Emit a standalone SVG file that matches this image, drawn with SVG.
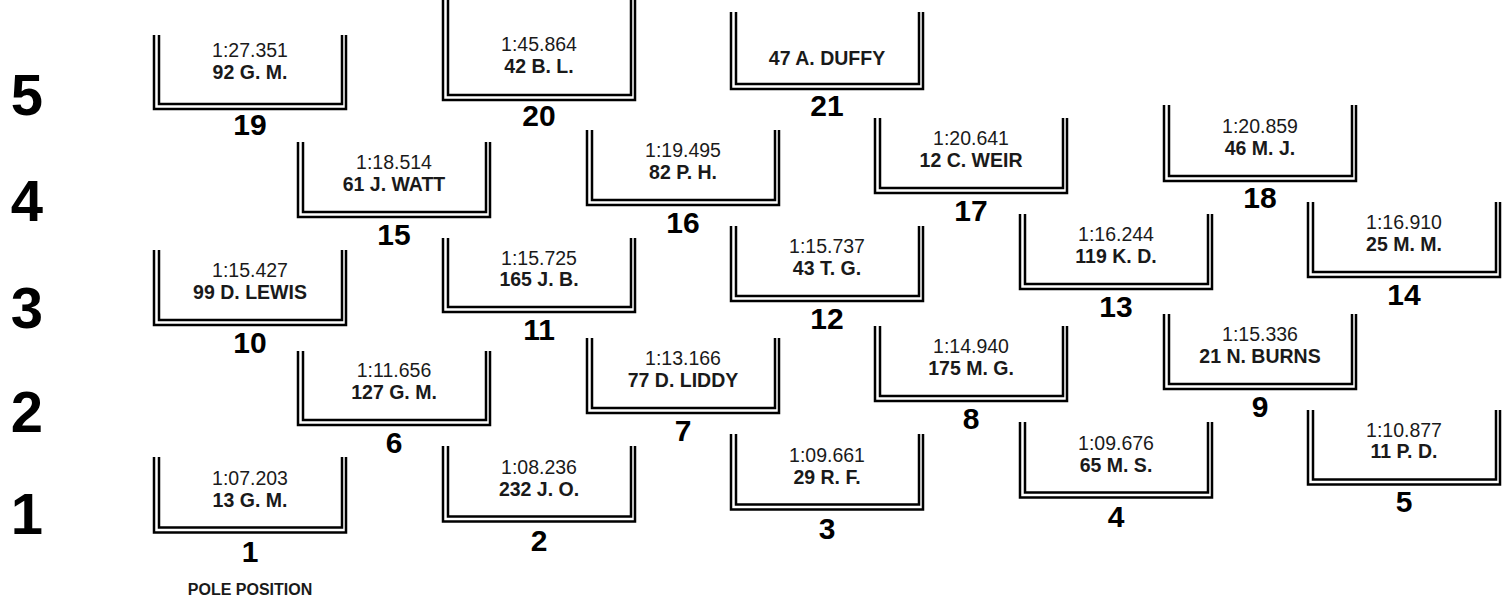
<svg xmlns="http://www.w3.org/2000/svg" width="1511" height="608" viewBox="0 0 1511 608">
<style>
.u{fill:none;stroke:#000;stroke-width:2.5}
.t{font-family:"Liberation Sans",Arial,sans-serif;font-size:19.5px;text-anchor:middle;fill:#1a1a1a}
.n{font-family:"Liberation Sans",Arial,sans-serif;font-size:19.5px;font-weight:bold;text-anchor:middle;fill:#1a1a1a}
.p{font-family:"Liberation Sans",Arial,sans-serif;font-size:30px;font-weight:bold;text-anchor:middle;fill:#000}
.r{font-family:"Liberation Sans",Arial,sans-serif;font-size:58px;font-weight:bold;text-anchor:middle;fill:#000}
.pole{font-family:"Liberation Sans",Arial,sans-serif;font-size:16px;font-weight:bold;text-anchor:middle;fill:#1a1a1a}
</style>
<rect width="1511" height="608" fill="#fff"/>
<g id="rows">
<text class="r" x="27" y="115">5</text>
<text class="r" x="27" y="221">4</text>
<text class="r" x="27" y="328">3</text>
<text class="r" x="27" y="432">2</text>
<text class="r" x="27" y="534">1</text>
</g>
<text class="pole" x="250" y="595">POLE POSITION</text>
<g id="box1"><path class="u" d="M154,457V532.5H346V457"/><path class="u" d="M159,457V527.5H342V457"/><text class="t" x="250" y="485">1:07.203</text><text class="n" x="250" y="507">13 G. M.</text><text class="p" x="250" y="562">1</text></g>
<g id="box2"><path class="u" d="M443,446V521.5H635V446"/><path class="u" d="M448,446V516.5H631V446"/><text class="t" x="539" y="474">1:08.236</text><text class="n" x="539" y="496">232 J. O.</text><text class="p" x="539" y="551">2</text></g>
<g id="box3"><path class="u" d="M731,434V509.5H923V434"/><path class="u" d="M736,434V504.5H919V434"/><text class="t" x="827" y="462">1:09.661</text><text class="n" x="827" y="484">29 R. F.</text><text class="p" x="827" y="539">3</text></g>
<g id="box4"><path class="u" d="M1020,422V497.5H1212V422"/><path class="u" d="M1025,422V492.5H1208V422"/><text class="t" x="1116" y="450">1:09.676</text><text class="n" x="1116" y="472">65 M. S.</text><text class="p" x="1116" y="527">4</text></g>
<g id="box5"><path class="u" d="M1308,410V484.5H1500V410"/><path class="u" d="M1313,410V479.5H1496V410"/><text class="t" x="1404" y="437">1:10.877</text><text class="n" x="1404" y="458">11 P. D.</text><text class="p" x="1404" y="512">5</text></g>
<g id="box6"><path class="u" d="M298,351V425H490V351"/><path class="u" d="M303,351V420H486V351"/><text class="t" x="394" y="377">1:11.656</text><text class="n" x="394" y="399">127 G. M.</text><text class="p" x="394" y="453">6</text></g>
<g id="box7"><path class="u" d="M587,338V413H779V338"/><path class="u" d="M592,338V408H775V338"/><text class="t" x="683" y="365">1:13.166</text><text class="n" x="683" y="387">77 D. LIDDY</text><text class="p" x="683" y="441">7</text></g>
<g id="box8"><path class="u" d="M875,326V401H1067V326"/><path class="u" d="M880,326V396H1063V326"/><text class="t" x="971" y="353">1:14.940</text><text class="n" x="971" y="375">175 M. G.</text><text class="p" x="971" y="429">8</text></g>
<g id="box9"><path class="u" d="M1164,314V389H1356V314"/><path class="u" d="M1169,314V384H1352V314"/><text class="t" x="1260" y="341">1:15.336</text><text class="n" x="1260" y="363">21 N. BURNS</text><text class="p" x="1260" y="417">9</text></g>
<g id="box10"><path class="u" d="M154,250V325H346V250"/><path class="u" d="M159,250V320H342V250"/><text class="t" x="250" y="277">1:15.427</text><text class="n" x="250" y="299">99 D. LEWIS</text><text class="p" x="250" y="353">10</text></g>
<g id="box11"><path class="u" d="M443,238V312H635V238"/><path class="u" d="M448,238V307H631V238"/><text class="t" x="539" y="265">1:15.725</text><text class="n" x="539" y="286">165 J. B.</text><text class="p" x="539" y="340">11</text></g>
<g id="box12"><path class="u" d="M731,226V301H923V226"/><path class="u" d="M736,226V296H919V226"/><text class="t" x="827" y="253">1:15.737</text><text class="n" x="827" y="275">43 T. G.</text><text class="p" x="827" y="329">12</text></g>
<g id="box13"><path class="u" d="M1020,214V289H1212V214"/><path class="u" d="M1025,214V284H1208V214"/><text class="t" x="1116" y="241">1:16.244</text><text class="n" x="1116" y="263">119 K. D.</text><text class="p" x="1116" y="317">13</text></g>
<g id="box14"><path class="u" d="M1308,202V277H1500V202"/><path class="u" d="M1313,202V272H1496V202"/><text class="t" x="1404" y="229">1:16.910</text><text class="n" x="1404" y="251">25 M. M.</text><text class="p" x="1404" y="305">14</text></g>
<g id="box15"><path class="u" d="M298,142V217H490V142"/><path class="u" d="M303,142V212H486V142"/><text class="t" x="394" y="169">1:18.514</text><text class="n" x="394" y="191">61 J. WATT</text><text class="p" x="394" y="245">15</text></g>
<g id="box16"><path class="u" d="M587,130V205H779V130"/><path class="u" d="M592,130V200H775V130"/><text class="t" x="683" y="157">1:19.495</text><text class="n" x="683" y="179">82 P. H.</text><text class="p" x="683" y="233">16</text></g>
<g id="box17"><path class="u" d="M875,118V193H1067V118"/><path class="u" d="M880,118V188H1063V118"/><text class="t" x="971" y="145">1:20.641</text><text class="n" x="971" y="167">12 C. WEIR</text><text class="p" x="971" y="221">17</text></g>
<g id="box18"><path class="u" d="M1164,105V181H1356V105"/><path class="u" d="M1169,105V176H1352V105"/><text class="t" x="1260" y="133">1:20.859</text><text class="n" x="1260" y="155">46 M. J.</text><text class="p" x="1260" y="208">18</text></g>
<g id="box19"><path class="u" d="M154,35V109H346V35"/><path class="u" d="M159,35V104H342V35"/><text class="t" x="250" y="57">1:27.351</text><text class="n" x="250" y="79">92 G. M.</text><text class="p" x="250" y="135">19</text></g>
<g id="box20"><path class="u" d="M443,0V100H635V0"/><path class="u" d="M448,0V95H631V0"/><text class="t" x="539" y="51">1:45.864</text><text class="n" x="539" y="73">42 B. L.</text><text class="p" x="539" y="126">20</text></g>
<g id="box21"><path class="u" d="M731,12V89H923V12"/><path class="u" d="M736,12V84H919V12"/><text class="n" x="827" y="65">47 A. DUFFY</text><text class="p" x="827" y="116">21</text></g>
</svg>
